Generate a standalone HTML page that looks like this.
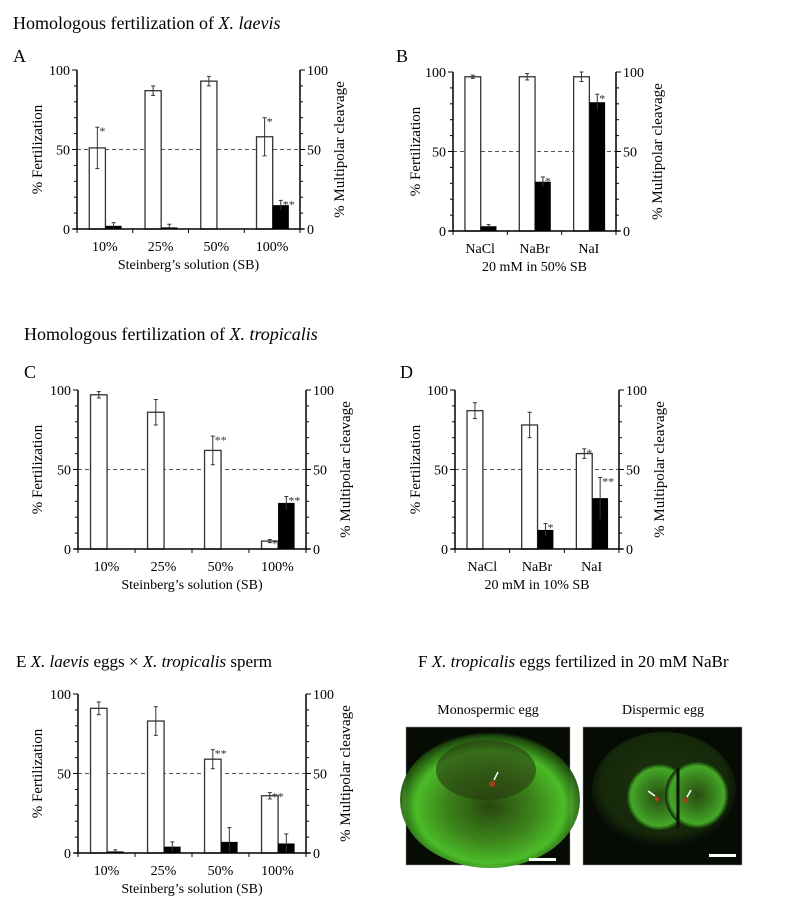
<!DOCTYPE html>
<html><head><meta charset="utf-8">
<style>
html,body{margin:0;padding:0;background:#fff;}
svg{display:block;font-family:"Liberation Serif",serif;}
</style></head>
<body>
<svg id="fig" width="806" height="906" viewBox="0 0 806 906" xmlns="http://www.w3.org/2000/svg">
<defs>
<radialGradient id="g1" cx="0.5" cy="0.55" r="0.55">
<stop offset="0" stop-color="#2a4a10"/><stop offset="0.45" stop-color="#3f8a1c"/><stop offset="0.75" stop-color="#4fc52a"/><stop offset="0.95" stop-color="#1e4a0c"/><stop offset="1" stop-color="#050a03"/></radialGradient>
<radialGradient id="g2" cx="0.5" cy="0.5" r="0.5">
<stop offset="0" stop-color="#2a4a12"/><stop offset="0.6" stop-color="#3a8a20"/><stop offset="0.85" stop-color="#45a828"/><stop offset="1" stop-color="#0e2006"/></radialGradient>
<radialGradient id="g3" cx="0.5" cy="0.45" r="0.55">
<stop offset="0" stop-color="#1e3410"/><stop offset="0.8" stop-color="#15280a"/><stop offset="1" stop-color="#050905"/></radialGradient>
</defs>
<text x="13" y="29" font-size="18">Homologous fertilization of <tspan font-style="italic">X. laevis</tspan></text>
<text x="24" y="340" font-size="18">Homologous fertilization of <tspan font-style="italic">X. tropicalis</tspan></text>
<text x="13" y="62" font-size="18">A</text>
<text x="396" y="62" font-size="18">B</text>
<text x="24" y="378" font-size="18">C</text>
<text x="400" y="378" font-size="18">D</text>
<text x="16" y="667" font-size="17">E  <tspan font-style="italic">X. laevis</tspan> eggs  ×  <tspan font-style="italic">X. tropicalis</tspan> sperm</text>
<text x="418" y="667" font-size="17">F  <tspan font-style="italic">X. tropicalis</tspan> eggs fertilized in 20 mM NaBr</text>
<text x="488" y="714" font-size="14" text-anchor="middle">Monospermic egg</text>
<text x="663" y="714" font-size="14" text-anchor="middle">Dispermic egg</text>
<g>
<rect x="406" y="727" width="164" height="138" fill="#060b04" stroke="#999" stroke-width="0.5"/>
<ellipse cx="490" cy="800" rx="90" ry="68" fill="url(#g1)" opacity="0.95"/>
<ellipse cx="486" cy="770" rx="50" ry="30" fill="#2a3a10" opacity="0.6"/>
<circle cx="492" cy="784" r="3" fill="#a0401a"/>
<line x1="494" y1="780" x2="498" y2="772" stroke="#fff" stroke-width="1.5"/>
<rect x="529" y="858" width="27" height="3" fill="#fff"/>
</g>
<g>
<rect x="583" y="727" width="159" height="138" fill="#060b04" stroke="#999" stroke-width="0.5"/>
<ellipse cx="664" cy="790" rx="72" ry="58" fill="url(#g3)"/>
<ellipse cx="659" cy="797" rx="33" ry="34" fill="url(#g2)"/>
<ellipse cx="697" cy="795" rx="32" ry="34" fill="url(#g2)"/>
<line x1="678" y1="768" x2="678" y2="828" stroke="#0a1505" stroke-width="3"/>
<circle cx="657" cy="799" r="2.5" fill="#a0401a"/><circle cx="686" cy="800" r="2.5" fill="#a0401a"/>
<line x1="648" y1="791" x2="655" y2="796" stroke="#fff" stroke-width="1.5"/>
<line x1="691" y1="790" x2="687" y2="797" stroke="#fff" stroke-width="1.5"/>
<rect x="709" y="854" width="27" height="3" fill="#fff"/>
</g>
<g id="charts"></g>
</svg>
<script>
// Panel A data
const catsA = ["10%","25%","50%","100%"];
const whiteA = [51,87,93,58];
const whiteErrA = [13,3,3,12];
const blackA = [2,1,0,15];
const blackErrA = [2,2,0,3];
const starWA = ["*","","","*"];
const starBA = ["","","","**"];
// Panel B data
const catsB = ["NaCl","NaBr","NaI"];
const whiteB = [97,97,97];
const whiteErrB = [1,2,3];
const blackB = [3,31,81];
const blackErrB = [1,3,5];
const starWB = ["","",""];
const starBB = ["","*","*"];
// Panel C data
const catsC = ["10%","25%","50%","100%"];
const whiteC = [97,86,62,5];
const whiteErrC = [2,8,9,1];
const blackC = [0,0,0,29];
const blackErrC = [0,0,0,4];
const starWC = ["","","**","*"];
const starBC = ["","","","**"];
// Panel D data
const catsD = ["NaCl","NaBr","NaI"];
const whiteD = [87,78,60];
const whiteErrD = [5,8,3];
const blackD = [0,12,32];
const blackErrD = [0,4,13];
const starWD = ["","","*"];
const starBD = ["","*","**"];
// Panel E data
const catsE = ["10%","25%","50%","100%"];
const whiteE = [91,83,59,36];
const whiteErrE = [4,9,6,2];
const blackE = [1,4,7,6];
const blackErrE = [1,3,9,6];
const starWE = ["","","**","**"];
const starBE = ["","","",""];
const yTicks = [0,50,100];

const NS="http://www.w3.org/2000/svg";
const root=document.getElementById('charts');
function mk(tag,attrs,parent){const e=document.createElementNS(NS,tag);for(const k in attrs)e.setAttribute(k,attrs[k]);(parent||root).appendChild(e);return e;}

function panel(id,L,R,y0,y100,cats,wv,we,bv,be,sw,sb,xtitle,lblL,lblR){
  const g=mk('g',{});
  
  
  const y=v=>y0+(y100-y0)*v/100;
  const n=cats.length, gw=(R-L)/n;
  const x=i=>L+i*gw;
  // dashed 50 line
  const d=mk('line',{x1:L,x2:R,y1:y(50),y2:y(50),stroke:'#555','stroke-width':1,'stroke-dasharray':'4,3'},g);
  
  
  // bars
  for(let i=0;i<n;i++){
    const bx=x(i)+0.22*gw, bw=0.29*gw;
    if(wv[i]>0){
      const r=mk('rect',{x:bx,y:y(wv[i]),width:bw,height:y0-y(wv[i]),fill:'#fff',stroke:'#333','stroke-width':1.3},g);
      
      
      const cx=bx+bw/2;
      if(we[i]>0){
        mk('line',{x1:cx,x2:cx,y1:y(wv[i]+we[i]),y2:y(wv[i]-we[i]),stroke:'#333','stroke-width':1},g);
        mk('line',{x1:cx-2,x2:cx+2,y1:y(wv[i]+we[i]),y2:y(wv[i]+we[i]),stroke:'#333','stroke-width':1},g);
        mk('line',{x1:cx-2,x2:cx+2,y1:y(wv[i]-we[i]),y2:y(wv[i]-we[i]),stroke:'#333','stroke-width':1},g);
      }
      if(sw[i]){const t=mk('text',{x:cx+2,y:y(wv[i]+we[i])+8,'font-size':12,fill:'#333'},g);t.textContent=sw[i];
        }
    }
    const kx=bx+bw;
    if(bv[i]>0){
      const r=mk('rect',{x:kx,y:y(bv[i]),width:bw,height:y0-y(bv[i]),fill:'#000'},g);
      
      
      const cx=kx+bw/2;
      if(be[i]>0){
        mk('line',{x1:cx,x2:cx,y1:y(bv[i]+be[i]),y2:y(Math.max(0,bv[i]-be[i])),stroke:'#333','stroke-width':1},g);
        mk('line',{x1:cx-2,x2:cx+2,y1:y(bv[i]+be[i]),y2:y(bv[i]+be[i]),stroke:'#333','stroke-width':1},g);
      }
      if(sb[i]){const t=mk('text',{x:cx+2,y:y(bv[i]+be[i])+8,'font-size':12,fill:'#333'},g);t.textContent=sb[i];
        }
    }
  }
  // axes
  mk('line',{x1:L,x2:L,y1:y0,y2:y100,stroke:'#000','stroke-width':1.5},g);
  mk('line',{x1:R,x2:R,y1:y0,y2:y100,stroke:'#000','stroke-width':1.5},g);
  mk('line',{x1:L-4,x2:R+4,y1:y0,y2:y0,stroke:'#000','stroke-width':1.5},g);
  for(let v=0;v<=100;v+=10){
    const len=(v%50===0)?5:3;
    mk('line',{x1:L-len,x2:L,y1:y(v),y2:y(v),stroke:'#000','stroke-width':1},g);
    mk('line',{x1:R,x2:R+len,y1:y(v),y2:y(v),stroke:'#000','stroke-width':1},g);
  }
  for(let i=0;i<=n;i++) mk('line',{x1:x(i),x2:x(i),y1:y0,y2:y0+4,stroke:'#000','stroke-width':1},g);
  yTicks.forEach(v=>{
    const a=mk('text',{x:L-7,y:y(v)+5,'font-size':14,'text-anchor':'end'},g);a.textContent=v;
    
    const b=mk('text',{x:R+7,y:y(v)+5,'font-size':14},g);b.textContent=v;
    
  });
  cats.forEach((c,i)=>{
    const t=mk('text',{x:x(i)+gw/2,y:y0+22,'font-size':14,'text-anchor':'middle'},g);t.textContent=c;
    
  });
  const xt=mk('text',{x:(L+R)/2,y:y0+40,'font-size':14,'text-anchor':'middle'},g);xt.textContent=xtitle;
  
  const yl=mk('text',{x:0,y:0,'font-size':15,'text-anchor':'middle',transform:`translate(${lblL},${(y0+y100)/2}) rotate(-90)`},g);yl.textContent='% Fertilization';
  
  const yr=mk('text',{x:0,y:0,'font-size':15,'text-anchor':'middle',transform:`translate(${lblR},${(y0+y100)/2}) rotate(-90)`},g);yr.textContent='% Multipolar cleavage';
  
}
panel('a',77,300,229,70,catsA,whiteA,whiteErrA,blackA,blackErrA,starWA,starBA,"Steinberg’s solution (SB)",42,344);
panel('b',453,616,231,72,catsB,whiteB,whiteErrB,blackB,blackErrB,starWB,starBB,"20 mM in 50% SB",420,662);
panel('c',78,306,549,390,catsC,whiteC,whiteErrC,blackC,blackErrC,starWC,starBC,"Steinberg’s solution (SB)",42,350);
panel('d',455,619,549,390,catsD,whiteD,whiteErrD,blackD,blackErrD,starWD,starBD,"20 mM in 10% SB",420,664);
panel('e',78,306,853,694,catsE,whiteE,whiteErrE,blackE,blackErrE,starWE,starBE,"Steinberg’s solution (SB)",42,350);
</script>
</body></html>
